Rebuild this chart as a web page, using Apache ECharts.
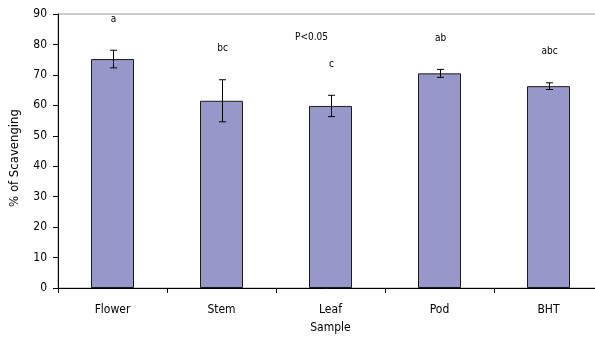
<!DOCTYPE html>
<html><head><meta charset="utf-8">
<script src="https://cdn.jsdelivr.net/npm/echarts@6/dist/echarts.min.js"></script>
<style>html,body{margin:0;padding:0;background:#fff}#c{width:595px;height:340px}</style>
</head><body><div id="c"></div>
<script>
var categories = ['Flower', 'Stem', 'Leaf', 'Pod', 'BHT'];
var scavenging = [75.2, 61.5, 59.8, 70.5, 66.3];
var errors = [2.9, 6.9, 3.5, 1.3, 1.1];
var letters = ['a', 'bc', 'c', 'ab', 'abc'];
var yTicks = [0, 10, 20, 30, 40, 50, 60, 70, 80, 90];

var FONT = '"DejaVu Sans Condensed", "DejaVu Sans", sans-serif';
var chart = echarts.init(document.getElementById('c'), null, {renderer: 'canvas'});
var errData = categories.map(function (c, i) { return [i, scavenging[i], errors[i], letters[i]]; });

chart.setOption({
  animation: false,
  backgroundColor: '#fff',
  title: {text: 'P<0.05', left: 290, top: 27, textStyle: {fontFamily: FONT, fontSize: 10, fontWeight: 'normal', color: '#000'}},
  grid: {left: 58, top: 14, right: -8, bottom: 52, outerBoundsMode: 'none', containLabel: false,
    show: true, borderColor: '#999', borderWidth: 1},
  xAxis: {
    type: 'category', data: categories,
    name: 'Sample', nameLocation: 'middle', nameGap: 34,
    nameTextStyle: {fontFamily: FONT, fontSize: 12, color: '#000'},
    axisLine: {lineStyle: {color: '#000', width: 1}},
    axisTick: {show: true, length: 5, lineStyle: {color: '#000'}},
    axisLabel: {fontFamily: FONT, fontSize: 12, color: '#000', margin: 16}
  },
  yAxis: {
    type: 'value', min: 0, max: 90, interval: 10,
    name: '% of Scavenging', nameLocation: 'middle', nameGap: 37,
    nameTextStyle: {fontFamily: FONT, fontSize: 13, color: '#000', padding: [0, 14, 0, 0]},
    axisLine: {show: true, lineStyle: {color: '#000', width: 1}},
    axisTick: {show: true, length: 5, lineStyle: {color: '#000'}},
    axisLabel: {fontFamily: FONT, fontSize: 12, color: '#000', margin: 11,
      formatter: function (v) { return yTicks.indexOf(v) >= 0 ? String(v) : ''; }},
    splitLine: {show: false}
  },
  series: [{
    type: 'bar', data: scavenging, barWidth: 43,
    itemStyle: {color: '#9797c9', borderColor: '#1a1a1a', borderWidth: 1}
  }, {
    type: 'custom', data: errData, z: 10,
    renderItem: function (params, api) {
      var i = api.value(0), v = api.value(1), e = api.value(2);
      var top = api.coord([i, v + e]), bot = api.coord([i, v - e]);
      var x = Math.round(top[0]) + 0.5, cw = 3.5;
      var st = {stroke: '#000', lineWidth: 1};
      return {type: 'group', children: [
        {type: 'line', shape: {x1: x, y1: top[1], x2: x, y2: bot[1]}, style: st},
        {type: 'line', shape: {x1: x - cw, y1: top[1], x2: x + cw, y2: top[1]}, style: st},
        {type: 'line', shape: {x1: x - cw, y1: bot[1], x2: x + cw, y2: bot[1]}, style: st},
        {type: 'text', style: {text: letters[params.dataIndex], x: x, y: top[1] - 31,
          align: 'center', verticalAlign: 'middle', fontFamily: FONT, fontSize: 10, fill: '#000'}}
      ]};
    }
  }]
});
</script></body></html>
